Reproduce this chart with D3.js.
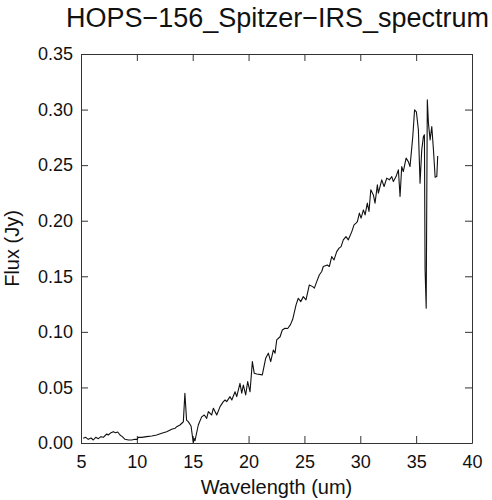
<!DOCTYPE html>
<html lang="en">
<head>
  <meta charset="UTF-8">
  <title>HOPS-156 Spitzer IRS spectrum</title>
  <style>
    body {
      margin: 0;
      padding: 0;
      background-color: #fff;
      font-family: "Liberation Sans", Arial, sans-serif;
    }
    .axis path, .axis line {
      stroke: #333;
    }
    .axis text {
      font-family: "Liberation Sans", Arial, sans-serif;
      font-size: 18px;
      fill: #111;
    }
  </style>
  <script src="https://d3js.org/d3.v7.min.js"></script>
</head>
<body>
  <div id="chart"></div>
  <script>
    const wavelength = [
      5.20, 5.42, 5.65, 5.90, 6.10, 6.32, 6.55, 6.79, 7.00, 7.30, 7.44, 7.69, 7.89, 8.10, 8.29, 8.49, 8.70, 8.94,
      9.24, 9.54, 9.83, 10.04, 10.13, 10.43, 10.88, 11.33, 11.78, 12.22, 12.67, 13.12, 13.42, 13.57, 13.86, 14.07,
      14.16, 14.30, 14.45, 14.60, 14.85, 15.00, 15.06, 15.12, 15.20, 15.50, 15.80, 16.04, 16.25, 16.40, 16.70, 16.85,
      17.15, 17.45, 17.74, 17.90, 18.04, 18.34, 18.50, 18.79, 18.94, 19.23, 19.39, 19.53, 19.74, 19.92, 20.13, 20.34,
      20.51, 20.73, 21.23, 21.53, 21.77, 21.98, 22.22, 22.37, 22.52, 22.82, 23.02, 23.26, 23.50, 23.75, 23.95, 24.25,
      24.45, 24.67, 24.90, 25.14, 25.44, 25.74, 25.89, 26.10, 26.33, 26.55, 26.69, 27.05, 27.23, 27.44, 27.65, 27.89,
      28.10, 28.28, 28.48, 28.72, 28.93, 29.24, 29.44, 29.62, 29.74, 29.92, 30.07, 30.28, 30.43, 30.63, 30.78, 30.94,
      31.17, 31.32, 31.53, 31.62, 31.92, 32.13, 32.37, 32.60, 32.82, 32.96, 33.20, 33.41, 33.56, 33.71, 33.85, 34.10,
      34.30, 34.45, 34.70, 34.86, 35.02, 35.20, 35.35, 35.50, 35.65, 35.74, 35.80, 35.90, 36.00, 36.10, 36.25, 36.40,
      36.55, 36.70, 36.85, 36.93
    ];
    const flux = [
      0.0042, 0.0051, 0.0033, 0.0045, 0.0027, 0.0051, 0.0039, 0.0057, 0.0051, 0.0081, 0.0072, 0.0093, 0.0102, 0.0093, 0.0099, 0.0072, 0.0057, 0.0033,
      0.0027, 0.0027, 0.0033, 0.0033, 0.0051, 0.0051, 0.0057, 0.0063, 0.0072, 0.0087, 0.0102, 0.0123, 0.0132, 0.0147, 0.0162, 0.0182,
      0.0190, 0.0448, 0.0206, 0.0192, 0.0153, 0.0042, 0.0005, 0.0042, 0.0020, 0.0162, 0.0235, 0.0252, 0.0222, 0.0282, 0.0252, 0.0313,
      0.0252, 0.0327, 0.0372, 0.0387, 0.0372, 0.0417, 0.0387, 0.0461, 0.0417, 0.0537, 0.0448, 0.0522, 0.0432, 0.0552, 0.0461, 0.0732,
      0.0627, 0.0621, 0.0613, 0.0762, 0.0808, 0.0732, 0.0837, 0.0808, 0.0927, 0.0956, 0.1017, 0.1033, 0.1030, 0.1065, 0.1113, 0.1243,
      0.1302, 0.1272, 0.1317, 0.1288, 0.1422, 0.1407, 0.1393, 0.1452, 0.1512, 0.1543, 0.1588, 0.1602, 0.1588, 0.1677, 0.1647, 0.1722,
      0.1753, 0.1767, 0.1828, 0.1857, 0.1828, 0.1902, 0.1963, 0.1978, 0.1992, 0.2068, 0.2023, 0.2097, 0.2052, 0.2158, 0.2083, 0.2278,
      0.2232, 0.2158, 0.2323, 0.2248, 0.2368, 0.2308, 0.2383, 0.2368, 0.2397, 0.2352, 0.2397, 0.2458, 0.2218, 0.2487, 0.2442, 0.2563,
      0.2532, 0.2487, 0.2758, 0.2998, 0.2980, 0.2818, 0.2338, 0.2636, 0.2758, 0.2773, 0.1558, 0.1212, 0.3087, 0.2878, 0.2727, 0.2848,
      0.2636, 0.2391, 0.2397, 0.2583
    ];
    const xTicks = [5, 10, 15, 20, 25, 30, 35, 40];
    const yTicks = [0.00, 0.05, 0.10, 0.15, 0.20, 0.25, 0.30, 0.35];
    const title = "HOPS\u2212156_Spitzer\u2212IRS_spectrum";

    const width = 492;
    const height = 500;
    const margin = { top: 54, right: 20, bottom: 57, left: 81 };
    const tick = 7;

    const svg = d3.select("#chart")
      .append("svg")
      .attr("width", width)
      .attr("height", height);

    const x = d3.scaleLinear().domain([5, 40]).range([margin.left, width - margin.right]);
    const y = d3.scaleLinear().domain([0, 0.35]).range([height - margin.bottom, margin.top]);

    // bottom + left axes carry labels, top + right just mirror the ticks
    svg.append("g")
      .attr("class", "axis")
      .attr("transform", `translate(0,${y(0)})`)
      .call(d3.axisBottom(x).tickValues(xTicks).tickSizeInner(-tick).tickSizeOuter(0).tickPadding(12).tickFormat(d3.format("d")));

    svg.append("g")
      .attr("class", "axis")
      .attr("transform", `translate(0,${y(0.35)})`)
      .call(d3.axisTop(x).tickValues(xTicks).tickSizeInner(-tick).tickSizeOuter(0).tickFormat(""));

    svg.append("g")
      .attr("class", "axis")
      .attr("transform", `translate(${x(5)},0)`)
      .call(d3.axisLeft(y).tickValues(yTicks).tickSizeInner(-tick).tickSizeOuter(0).tickPadding(8).tickFormat(d3.format(".2f")));

    svg.append("g")
      .attr("class", "axis")
      .attr("transform", `translate(${x(40)},0)`)
      .call(d3.axisRight(y).tickValues(yTicks).tickSizeInner(-tick).tickSizeOuter(0).tickFormat(""));

    const line = d3.line()
      .x((d, i) => x(wavelength[i]))
      .y(d => y(d));

    svg.append("path")
      .datum(flux)
      .attr("fill", "none")
      .attr("stroke", "#111")
      .attr("stroke-width", 1.1)
      .attr("stroke-linejoin", "round")
      .attr("d", line);

    svg.append("text")
      .attr("x", (x(5) + x(40)) / 2 + 1)
      .attr("y", 27)
      .attr("text-anchor", "middle")
      .attr("font-size", 27)
      .attr("fill", "#111")
      .text(title);

    svg.append("text")
      .attr("x", (x(5) + x(40)) / 2)
      .attr("y", 494)
      .attr("text-anchor", "middle")
      .attr("font-size", 20)
      .attr("fill", "#111")
      .text("Wavelength (um)");

    svg.append("text")
      .attr("transform", `translate(19,${(y(0) + y(0.35)) / 2}) rotate(-90)`)
      .attr("text-anchor", "middle")
      .attr("font-size", 20)
      .attr("fill", "#111")
      .text("Flux (Jy)");
  </script>
</body>
</html>
